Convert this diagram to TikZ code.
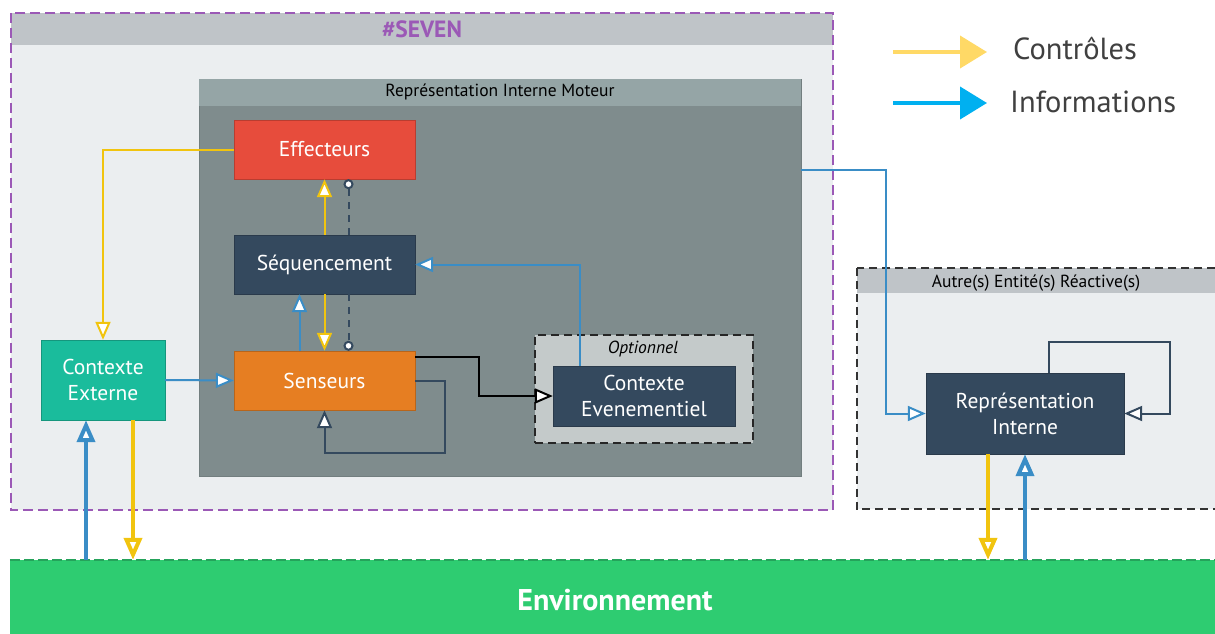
\documentclass[tikz,border=0pt]{standalone}
\usepackage{fontspec}
\setmainfont{PT Sans}
\usetikzlibrary{arrows.meta}

\definecolor{fondclair}{HTML}{EBEEF0}
\definecolor{entete}{HTML}{BFC4C8}
\definecolor{violet}{HTML}{9B59B6}
\definecolor{moteur}{HTML}{7F8C8D}
\definecolor{moteurtete}{HTML}{95A5A6}
\definecolor{rouge}{HTML}{E74C3C}
\definecolor{nuit}{HTML}{34495E}
\definecolor{orange}{HTML}{E67E22}
\definecolor{turquoise}{HTML}{1ABC9C}
\definecolor{vert}{HTML}{2ECC71}
\definecolor{option}{HTML}{C4CACA}
\definecolor{jaune}{HTML}{F1C40F}
\definecolor{bleu}{HTML}{3A8DC6}
\definecolor{legjaune}{HTML}{FFD966}
\definecolor{legbleu}{HTML}{00B0F0}
\definecolor{texte}{HTML}{404040}

\tikzset{
  bloc/.style={draw=#1!80!black, fill=#1, text=white, inner sep=0pt,
    minimum width=181pt, minimum height=59pt, align=center,
    font=\fontsize{21.5}{26}\selectfont},
  titre/.style={font=\fontsize{17.5}{20}\selectfont, text=black},
  fleche/.style={-{Triangle[fill=white, length=18pt, width=15pt]}, line width=2pt},
  grosse/.style={-{Triangle[fill=white, length=22pt, width=18pt]}, line width=4pt},
  pointille/.style={nuit, line width=2pt, dash pattern=on 7pt off 6pt,
    -{Circle[fill=white, length=10pt, width=10pt]}}
}

\begin{document}
\begin{tikzpicture}[x=1pt, y=-1pt]
\useasboundingbox (0,0) rectangle (1215,634);

% cadre #SEVEN
\node[fill=fondclair, inner sep=0pt, minimum width=822pt, minimum height=497pt] (seven) at (422,261.5) {};
\fill[entete] (seven.north west) rectangle ([yshift=-32pt]seven.north east);
\draw[violet, line width=1.5pt, dash pattern=on 10pt off 5pt] (seven.north west) rectangle (seven.south east);
\node[font=\bfseries\fontsize{23.5}{26}\selectfont, text=violet] (tseven) at (422,29) {\#SEVEN};

% representation interne moteur
\node[fill=moteur, draw=moteur!90!black, inner sep=0pt, minimum width=602pt, minimum height=397pt] (moteur) at (500,277.5) {};
\fill[moteurtete] (moteur.north west) rectangle ([yshift=-27pt]moteur.north east);
\node[titre] (tmoteur) at (500,92) {Représentation Interne Moteur};

% optionnel
\node[fill=option, draw=black!85, line width=2pt, dash pattern=on 8pt off 5pt,
  inner sep=0pt, minimum width=218pt, minimum height=108pt] (opt) at (644,389) {};
\node[titre, font=\itshape\fontsize{17.5}{20}\selectfont] (topt) at (643,349) {Optionnel};

% autre(s) entite(s)
\node[fill=fondclair, inner sep=0pt, minimum width=360pt, minimum height=241pt] (autre) at (1037,388.5) {};
\fill[entete] (autre.north west) rectangle ([yshift=-25pt]autre.north east);
\draw[black!80, line width=2pt, dash pattern=on 8pt off 5pt] (autre.north west) rectangle (autre.south east);
\node[titre] (tautre) at (1036,283) {Autre(s) Entité(s) Réactive(s)};

% environnement
\node[fill=vert, inner sep=0pt, minimum width=1210pt, minimum height=80pt,
  text=white, font=\bfseries\fontsize{30}{33}\selectfont] (env) at (615,600) {Environnement};
\draw[vert!80!black, line width=2pt, dash pattern=on 10pt off 4pt] (env.north west) -- (env.north east);

% blocs
\node[bloc=rouge] (eff) at (324.5,149.5) {Effecteurs};
\node[bloc=nuit] (seq) at (324.5,264.5) {Séquencement};
\node[bloc=orange] (sens) at (324.5,380.5) {Senseurs};
\node[bloc=turquoise, minimum width=124pt, minimum height=80pt] (ctxext) at (103,380) {Contexte\\Externe};
\node[bloc=nuit, minimum width=182pt, minimum height=60pt] (ctxev) at (644,396) {Contexte\\Evenementiel};
\node[bloc=nuit, minimum width=198pt, minimum height=81pt] (repint) at (1025,413.5) {Représentation\\Interne};

% controles
\draw[fleche, jaune] (eff.west) -| (ctxext.north);
\draw[fleche, jaune] (seq.north) -- (eff.south);
\draw[fleche, jaune] (seq.south) -- (sens.north);
\draw[grosse, jaune] ([xshift=30pt]ctxext.south) -- ([xshift=30pt]ctxext.south |- env.north);
\draw[grosse, jaune] ([xshift=-37pt]repint.south) -- ([xshift=-37pt]repint.south |- env.north);

% informations
\draw[fleche, bleu] ([xshift=-25pt]sens.north) -- ([xshift=-25pt]seq.south);
\draw[fleche, bleu] (ctxext.east) -- (sens.west);
\draw[fleche, bleu] ([xshift=-64pt]ctxev.north) |- (seq.east);
\draw[fleche, bleu] ([yshift=108pt]moteur.east) -- ++(85,0) |- (repint.west);
\draw[grosse, bleu] ([xshift=-17pt]ctxext.south |- env.north) -- ([xshift=-17pt]ctxext.south);
\draw[grosse, bleu] (repint.south |- env.north) -- (repint.south);

% liens internes
\draw[pointille] ([xshift=24pt]seq.north) -- ([xshift=24pt]eff.south);
\draw[pointille] ([xshift=24pt]seq.south) -- ([xshift=24pt]sens.north);
\draw[fleche, black] ([yshift=24pt]sens.east) -- ++(64,0) |- (ctxev.west);
\draw[fleche, nuit] (sens.east) -- ++(30,0) -- ++(0,72) -| (sens.south);
\draw[fleche, nuit] ([xshift=24pt]repint.north) |- ++(121,-31) |- (repint.east);

% legende
\coordinate (lj1) at (893,52);
\coordinate (lj2) at (987,52);
\coordinate (lb1) at (893,103);
\coordinate (lb2) at (987,103);
\draw[legjaune, line width=4pt, -{Triangle[length=27pt, width=32pt]}] (lj1) -- (lj2);
\draw[legbleu, line width=4pt, -{Triangle[length=27pt, width=32pt]}] (lb1) -- (lb2);
\node[anchor=west, text=texte, font=\fontsize{30.5}{34}\selectfont, inner sep=0pt] (lctrl) at (1013,49) {Contrôles};
\node[anchor=west, text=texte, font=\fontsize{30.5}{34}\selectfont, inner sep=0pt] (linfo) at (1010,102) {Informations};
\end{tikzpicture}
\end{document}
